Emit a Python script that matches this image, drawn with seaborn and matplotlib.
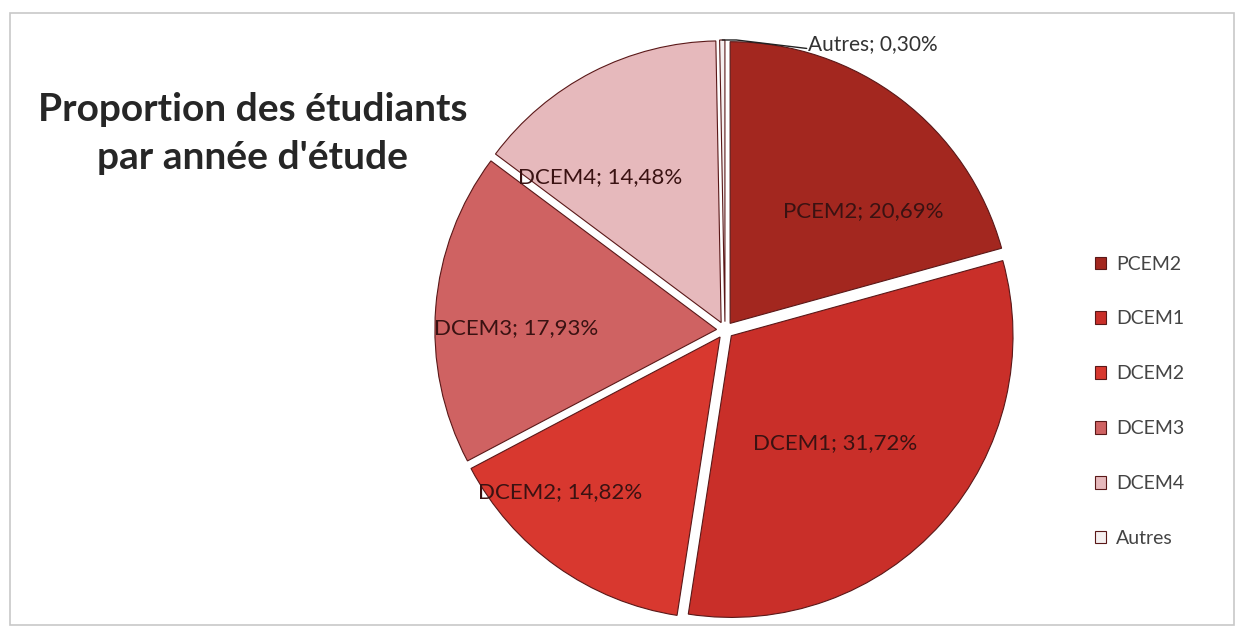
import numpy as np
import matplotlib.pyplot as plt
import seaborn as sns
from matplotlib.patches import Rectangle

categories = ["PCEM2", "DCEM1", "DCEM2", "DCEM3", "DCEM4", "Autres"]
shares = [20.69, 31.72, 14.82, 17.93, 14.48, 0.30]
label_text = ["PCEM2; 20,69%", "DCEM1; 31,72%", "DCEM2; 14,82%",
              "DCEM3; 17,93%", "DCEM4; 14,48%", "Autres; 0,30%"]
colors = ["#a3271f", "#c92f29", "#d8382f", "#cf6262", "#e6b9bc", "#f5f0f0"]
# in-slice label placement (radius, angle offset in degrees)
label_r = [0.65, 0.56, 0.82, 0.74, 0.70, None]
label_dang = [-12, -4, -10, 4, 12, 0]

sns.set_theme(style="white")
plt.rcParams["font.family"] = ["Lato", "DejaVu Sans"]

fig = plt.figure(figsize=(12.44, 6.33), dpi=100)
fig.patch.set_facecolor("white")
fig.patches.append(Rectangle((0.008, 0.012), 0.984, 0.968, transform=fig.transFigure,
                             fill=False, edgecolor="#c8c8c8", lw=1.2))

ax = fig.add_axes([0.3336, -0.011, 0.4984, 0.979])
wedges, _ = ax.pie(shares, colors=colors, startangle=90, counterclock=False,
                   explode=[0.03] * len(shares),
                   wedgeprops=dict(edgecolor="#5a1818", linewidth=0.8))
ax.set_xlim(-1.1, 1.1)
ax.set_ylim(-1.1, 1.1)
ax.set_aspect("equal")
ax.axis("off")

for w, txt, r, da in zip(wedges, label_text, label_r, label_dang):
    if r is None:
        continue
    ang = np.deg2rad((w.theta1 + w.theta2) / 2 + da)
    ax.text(r * np.cos(ang), r * np.sin(ang), txt, ha="center", va="center",
            fontsize=16, color="#3a1212")

# tiny "Autres" slice gets an outside label with a leader line
w = wedges[-1]
ang = np.deg2rad((w.theta1 + w.theta2) / 2)
cx, cy = w.center
tip = (cx + np.cos(ang), cy + np.sin(ang))
ax.plot([tip[0], tip[0] + 0.05, 0.29], [tip[1], tip[1], tip[1] - 0.03],
        color="#222222", lw=1.0, clip_on=False, zorder=5)
ax.text(0.295, 1.015, label_text[-1], fontsize=15, color="#333333",
        ha="left", va="center")

fig.text(0.203, 0.789, "Proportion des étudiants\npar année d'étude", ha="center", va="center",
         fontsize=28, fontweight="bold", color="#262626", linespacing=1.45)

leg = fig.legend(wedges, categories, loc="center left", bbox_to_anchor=(0.866, 0.366),
                 frameon=False, fontsize=14, handlelength=0.6, handleheight=0.6,
                 labelspacing=1.95, handletextpad=0.5)
for t in leg.get_texts():
    t.set_color("#444444")

fig.savefig("out.png", dpi=100)
